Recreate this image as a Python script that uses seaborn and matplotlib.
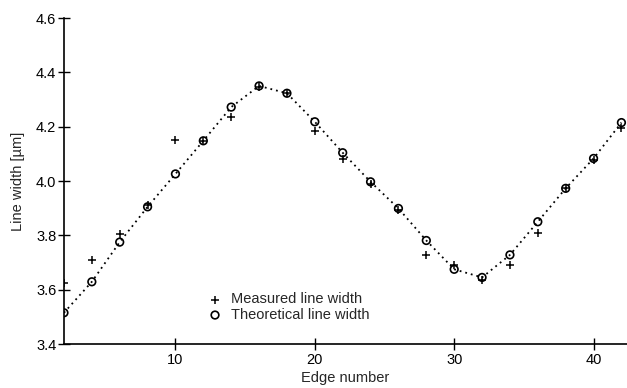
import matplotlib
matplotlib.use("Agg")
import matplotlib.pyplot as plt
import seaborn as sns
import pandas as pd

edge = [2, 4, 6, 8, 10, 12, 14, 16, 18, 20, 22, 24, 26, 28, 30, 32, 34, 36, 38, 40, 42]
theoretical = [3.515, 3.629, 3.775, 3.905, 4.026, 4.148, 4.272, 4.350, 4.323, 4.218, 4.104,
               3.997, 3.899, 3.781, 3.675, 3.645, 3.728, 3.850, 3.973, 4.083, 4.215]
measured = [3.624, 3.709, 3.805, 3.910, 4.151, 4.148, 4.235, 4.345, 4.323, 4.185, 4.080,
            3.989, 3.893, 3.728, 3.690, 3.636, 3.690, 3.810, 3.973, 4.078, 4.195]
xticks = [10, 20, 30, 40]
yticks = [3.4, 3.6, 3.8, 4.0, 4.2, 4.4, 4.6]

df = pd.DataFrame({"edge": edge, "theoretical": theoretical, "measured": measured})

sns.set_style("ticks")
plt.rcParams["font.family"] = ["Liberation Sans", "DejaVu Sans"]

fig = plt.figure(figsize=(6.27, 3.88), dpi=100)
ax = fig.add_axes([0.102, 0.1134, 0.898, 0.8402])

sns.lineplot(data=df, x="edge", y="theoretical", ax=ax, color="black",
             linestyle=(0, (1, 2.2)), linewidth=1.3, legend=False)
sns.scatterplot(data=df, x="edge", y="measured", ax=ax, marker="+", s=40,
                color="black", linewidth=1.1, label="Measured line width", zorder=3)
sns.scatterplot(data=df, x="edge", y="theoretical", ax=ax, marker="o", s=30,
                facecolor="none", edgecolor="black", linewidth=1.2,
                label="Theoretical line width", zorder=4)

ax.set_xlim(2, 42.4)
ax.set_ylim(3.4, 4.6)
ax.set_xticks(xticks)
ax.set_yticks(yticks)
ax.set_yticklabels([f"{v:.1f}" for v in yticks])
ax.tick_params(direction="inout", length=9, width=1.0, labelsize=10.5, colors="black")
ax.tick_params(axis="y", pad=1)
ax.tick_params(axis="x", pad=2)
sns.despine(ax=ax)
for s in ["left", "bottom"]:
    ax.spines[s].set_linewidth(1.2)
    ax.spines[s].set_color("black")

ax.set_xlabel("Edge number", fontsize=10.5, labelpad=3)
ax.set_ylabel("Line width [µm]", fontsize=10.5, labelpad=8)

ax.legend(loc="lower left", bbox_to_anchor=(0.245, 0.05), frameon=False,
          fontsize=10.5, handletextpad=0.6, labelspacing=0.1, handlelength=1.0,
          borderaxespad=0)

fig.savefig("out.png", dpi=100)
